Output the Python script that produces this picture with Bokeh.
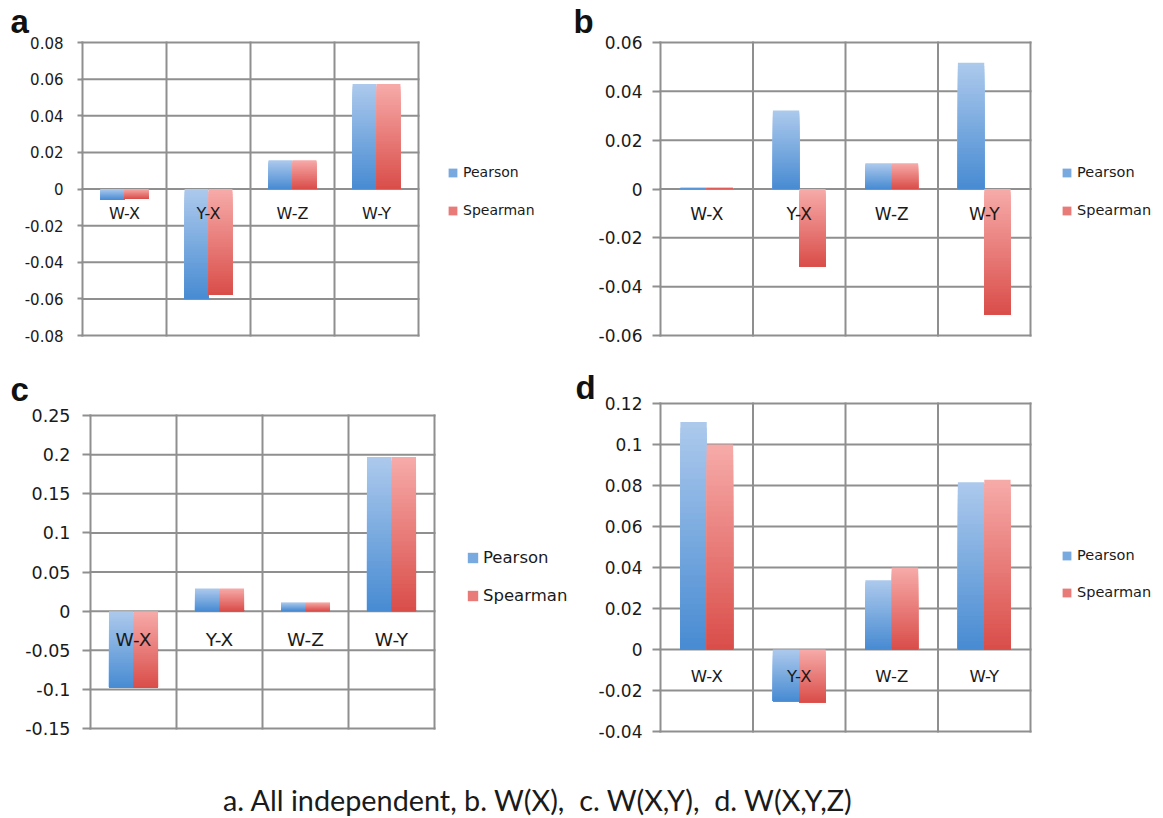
import numpy as np
from bokeh.plotting import figure
from bokeh.models import ColumnDataSource, FixedTicker, Range1d, Legend, LegendItem, Div
from bokeh.layouts import column, row
from bokeh.embed import file_html
from bokeh.resources import INLINE
from bokeh.core.properties import value

# ---------------- data ----------------
categories = ["W-X", "Y-X", "W-Z", "W-Y"]
series_names = ["Pearson", "Spearman"]

a_pearson = [-0.0060, -0.0600, 0.0157, 0.0574]
a_spearman = [-0.0055, -0.0578, 0.0157, 0.0574]
a_ticks = [-0.08, -0.06, -0.04, -0.02, 0, 0.02, 0.04, 0.06, 0.08]
a_tick_labels = ["-0.08", "-0.06", "-0.04", "-0.02", "0", "0.02", "0.04", "0.06", "0.08"]

b_pearson = [0.0005, 0.0322, 0.0105, 0.0517]
b_spearman = [0.0005, -0.0317, 0.0105, -0.0514]
b_ticks = [-0.06, -0.04, -0.02, 0, 0.02, 0.04, 0.06]
b_tick_labels = ["-0.06", "-0.04", "-0.02", "0", "0.02", "0.04", "0.06"]

c_pearson = [-0.098, 0.029, 0.011, 0.197]
c_spearman = [-0.098, 0.029, 0.011, 0.197]
c_ticks = [-0.15, -0.1, -0.05, 0, 0.05, 0.1, 0.15, 0.2, 0.25]
c_tick_labels = ["-0.15", "-0.1", "-0.05", "0", "0.05", "0.1", "0.15", "0.2", "0.25"]

d_pearson = [0.111, -0.0252, 0.0338, 0.0816]
d_spearman = [0.100, -0.0257, 0.0400, 0.0828]
d_ticks = [-0.04, -0.02, 0, 0.02, 0.04, 0.06, 0.08, 0.1, 0.12]
d_tick_labels = ["-0.04", "-0.02", "0", "0.02", "0.04", "0.06", "0.08", "0.1", "0.12"]

panel_letters = ["a", "b", "c", "d"]
caption_text = "a. All independent, b. W(X),&nbsp; c. W(X,Y),&nbsp; d. W(X,Y,Z)"

# ---------------- style ----------------
GRID = "#8f8f8f"
TXT = "#1a1a1a"
FONT = "DejaVu Sans"
P_TOP, P_BOT = (172, 201, 236), (70, 138, 210)
S_TOP, S_BOT = (246, 170, 168), (217, 76, 72)
BAR_FRAC = 0.285
NSLICE = 40


def hexc(rgb):
    return "#%02x%02x%02x" % tuple(int(round(c)) for c in rgb)


def add_bars(p, vals, x0, x1, top_rgb, bot_rgb, n=NSLICE):
    L, R, T, B, C = [], [], [], [], []
    for i, v in enumerate(vals):
        lo, hi = min(0.0, v), max(0.0, v)
        for k in range(n):
            frac = 1.0 - k / n
            L.append(i + 0.5 + x0)
            R.append(i + 0.5 + x1)
            T.append(lo + (hi - lo) * frac)
            B.append(lo)
            C.append(hexc([b + (t - b) * frac for t, b in zip(top_rgb, bot_rgb)]))
    src = ColumnDataSource(dict(left=L, right=R, top=T, bottom=B, color=C))
    return p.quad(left="left", right="right", top="top", bottom="bottom",
                  fill_color="color", line_color=None, source=src)


def make_panel(letter, pearson, spearman, ticks, tick_labels, cfg):
    # layout geometry (pixels): figure origin, plot box (gl..gr, gt..gb), frame box
    ox, oy = cfg["origin"]
    gl, gr, gt, gb = cfg["box"]
    fl, fr, ft, fb = cfg["frame"]
    n = len(categories)
    ppx = (gr - gl) / n
    ppy = (gb - gt) / (ticks[-1] - ticks[0])
    x_rng = Range1d(-(gl - fl) / ppx, n + (fr - gr) / ppx)
    y_rng = Range1d(ticks[0] - (fb - gb) / ppy, ticks[-1] + (gt - ft) / ppy)

    p = figure(frame_width=fr - fl, frame_height=fb - ft,
               min_border_left=fl - ox, min_border_right=0,
               min_border_top=ft - oy, min_border_bottom=0,
               x_range=x_rng, y_range=y_rng,
               x_axis_location=None, toolbar_location=None,
               output_backend="svg", background_fill_color="white",
               border_fill_color="white", title=letter)
    p.title.text_font = "Liberation Sans"
    p.title.text_font_style = "bold"
    p.title.text_font_size = "33px"
    p.title.text_color = "#111111"
    p.title.align = "left"
    p.title.offset = cfg["lab_dx"]
    p.title.standoff = cfg["lab_so"]

    p.outline_line_color = None
    p.xgrid.visible = False
    p.ygrid.visible = False

    # plot-area grid (category boundaries + value ticks)
    p.segment(x0=[0] * len(ticks), x1=[n] * len(ticks), y0=ticks, y1=ticks,
              line_color=GRID, line_width=2, line_cap="square")
    p.segment(x0=list(range(n + 1)), x1=list(range(n + 1)),
              y0=[ticks[0]] * (n + 1), y1=[ticks[-1]] * (n + 1),
              line_color=GRID, line_width=2, line_cap="square")

    ax = p.yaxis[0]
    ax.ticker = FixedTicker(ticks=ticks)
    ax.major_label_overrides = {t: s for t, s in zip(ticks, tick_labels)}
    ax.axis_line_color = None
    ax.major_tick_line_color = GRID
    ax.major_tick_line_width = 2
    ax.major_tick_out = cfg["tick_out"]
    ax.major_tick_in = gl - fl
    ax.minor_tick_line_color = None
    ax.major_label_standoff = cfg["standoff"]
    ax.major_label_text_font = FONT
    ax.major_label_text_font_size = cfg["tick_fs"]
    ax.major_label_text_color = TXT

    rp = add_bars(p, pearson, -BAR_FRAC, 0.0, P_TOP, P_BOT)
    rs = add_bars(p, spearman, 0.0, BAR_FRAC, S_TOP, S_BOT)

    p.text(x=[i + 0.5 for i in range(n)], y=[0] * n,
           text=categories, y_offset=cfg["cat_off"], text_align="center",
           text_baseline="middle", text_font=value(FONT),
           text_font_size=cfg["cat_fs"], text_color=TXT)

    mid = NSLICE // 2
    lx, ly_top = cfg["leg"]
    leg_h = 2 * 20 + cfg["leg_sp"]
    leg = Legend(items=[LegendItem(label=series_names[0], renderers=[rp], index=mid),
                        LegendItem(label=series_names[1], renderers=[rs], index=mid)],
                 location=(lx - fl, fb - (ly_top + leg_h)),
                 glyph_width=cfg["glyph"], glyph_height=cfg["glyph"],
                 label_height=20, spacing=cfg["leg_sp"], padding=0, margin=0,
                 label_standoff=cfg["leg_so"],
                 label_text_font=FONT, label_text_font_size=cfg["leg_fs"],
                 label_text_color=TXT, border_line_color=None,
                 background_fill_alpha=0, inactive_fill_alpha=0)
    p.add_layout(leg, "center")
    return p


# geometry in page pixels
cfg_a = dict(origin=(0, 0), box=(82, 418, 42, 335), frame=(80, 575, 40, 365),
             tick_out=3, standoff=14, tick_fs="15px", cat_fs="16px", cat_off=24,
             leg=(447, 162), glyph=11, leg_sp=18, leg_so=5, leg_fs="14px",
             lab_dx=-70, lab_so=1)
cfg_b = dict(origin=(575, 0), box=(660, 1030, 42, 335), frame=(658, 1163, 40, 365),
             tick_out=6, standoff=10, tick_fs="17px", cat_fs="17px", cat_off=25,
             leg=(1061, 162), glyph=11, leg_sp=18, leg_so=5, leg_fs="14.5px",
             lab_dx=-85, lab_so=1)
cfg_c = dict(origin=(0, 365), box=(90, 434, 415, 728), frame=(88, 575, 401, 755),
             tick_out=6, standoff=12, tick_fs="17.5px", cat_fs="18.5px", cat_off=28,
             leg=(466, 547), glyph=13, leg_sp=18, leg_so=4, leg_fs="16.5px",
             lab_dx=-78, lab_so=-13)
cfg_d = dict(origin=(575, 365), box=(660, 1030, 403, 731), frame=(658, 1163, 401, 755),
             tick_out=6, standoff=10, tick_fs="17px", cat_fs="16.5px", cat_off=27,
             leg=(1061, 545), glyph=11, leg_sp=17, leg_so=5, leg_fs="14.5px",
             lab_dx=-83, lab_so=-8)

pa = make_panel(panel_letters[0], a_pearson, a_spearman, a_ticks, a_tick_labels, cfg_a)
pb = make_panel(panel_letters[1], b_pearson, b_spearman, b_ticks, b_tick_labels, cfg_b)
pc = make_panel(panel_letters[2], c_pearson, c_spearman, c_ticks, c_tick_labels, cfg_c)
pd = make_panel(panel_letters[3], d_pearson, d_spearman, d_ticks, d_tick_labels, cfg_d)

caption = Div(text='<div style="padding-top:23px;padding-left:218px;font-family:Lato;'
                   'font-size:28.8px;line-height:34px;color:#1a1a1a;white-space:nowrap;">'
                   + caption_text + '</div>', width=1163, height=60)

layout = column(row(pa, pb), row(pc, pd), caption)
open("out.html", "w").write(file_html(layout, INLINE))
